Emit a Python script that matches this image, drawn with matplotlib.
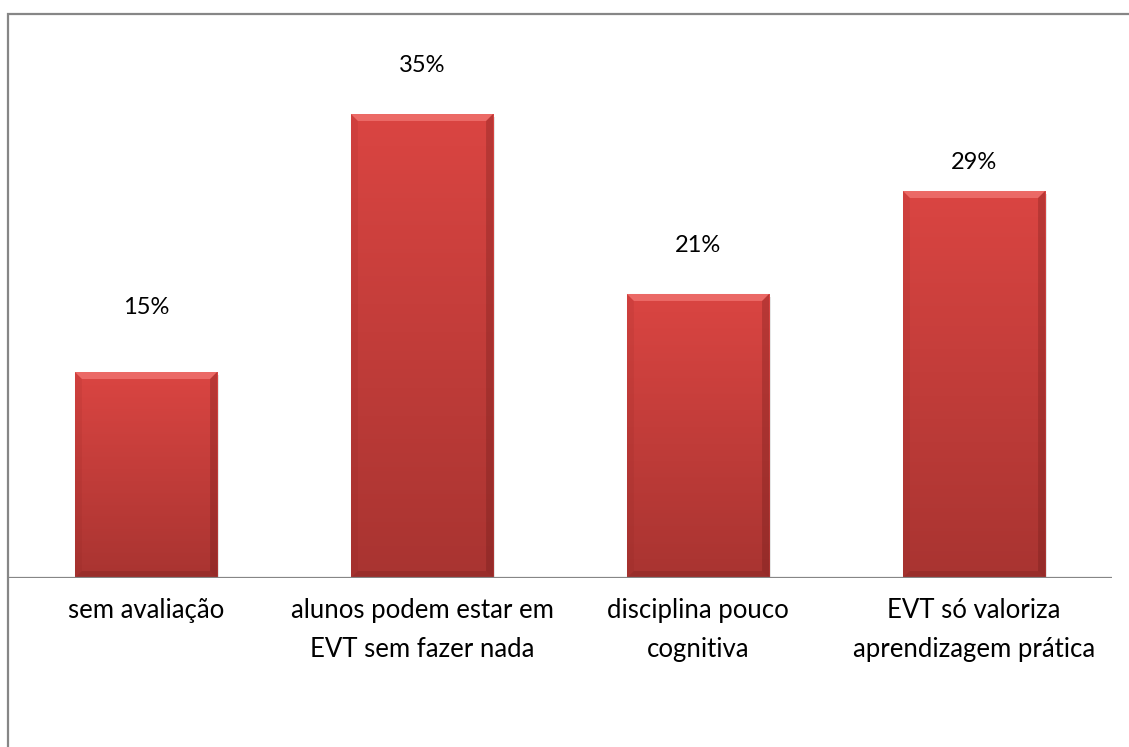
import matplotlib.pyplot as plt
import numpy as np
from matplotlib.patches import Polygon, Rectangle
from matplotlib.colors import LinearSegmentedColormap

categories = ["sem avaliação", "alunos podem estar em\nEVT sem fazer nada",
              "disciplina pouco\ncognitiva", "EVT só valoriza\naprendizagem prática"]
values = [15.36, 34.6, 21.18, 28.86]
labels = ["15%", "35%", "21%", "29%"]

W, H = 1129, 747
fig = plt.figure(figsize=(W / 100, H / 100), dpi=100)
plt.rcParams['font.family'] = ['Lato', 'DejaVu Sans']

# plot area: x 8..1112 px, y 14..578 px (from top)
ax = fig.add_axes([8 / W, (H - 578) / H, 1104 / W, 564 / H])
ax.set_xlim(-0.5, 3.5)
ax.set_ylim(0, 564 / 13.41)
ax.axis('off')

# outer chart frame (only left and top visible)
fig.add_artist(Rectangle((7.5 / W, -0.1), 2, (H - 13.5) / H + 0.1, transform=fig.transFigure,
                         fill=False, edgecolor='#868686', linewidth=1.6))

x = np.arange(len(categories))
width = 0.515
bars = ax.bar(x, values, width=width, color='#c83d3a', zorder=2)

cmap = LinearSegmentedColormap.from_list('red', ['#a93431', '#da4542'])
grad = np.linspace(0, 1, 100).reshape(-1, 1)
bx = 7 / 276  # bevel size in data units
by = 7 / 13.41
for b in bars:
    x0, w, h = b.get_x(), b.get_width(), b.get_height()
    # soft shadow
    ax.add_patch(Rectangle((x0 + 0.006, 0), w, h - 0.25, color='#000000', alpha=0.10, zorder=1, lw=0))
    im = ax.imshow(grad, extent=[x0, x0 + w, 0, h], origin='lower', cmap=cmap,
                   aspect='auto', zorder=3)
    im.set_clip_path(b)
    x1, y1 = x0 + w, h
    ax.add_patch(Polygon([[x0, y1], [x1, y1], [x1 - bx, y1 - by], [x0 + bx, y1 - by]],
                         closed=True, color='#f47a76', alpha=0.7, lw=0, zorder=4))
    ax.add_patch(Polygon([[x1, y1], [x1, 0], [x1 - bx, by], [x1 - bx, y1 - by]],
                         closed=True, color='#5a1412', alpha=0.25, lw=0, zorder=4))
    ax.add_patch(Polygon([[x0, y1], [x0, 0], [x0 + bx, by], [x0 + bx, y1 - by]],
                         closed=True, color='#7a1c1a', alpha=0.10, lw=0, zorder=4))
    ax.add_patch(Polygon([[x0, 0], [x1, 0], [x1 - bx, by], [x0 + bx, by]],
                         closed=True, color='#5a1412', alpha=0.2, lw=0, zorder=4))

# labels were moved by hand in the original, so gaps differ per bar (pixels)
label_gap = [65, 49, 48, 28]
for xi, v, lab, g in zip(x, values, labels, label_gap):
    ax.annotate(lab, (xi, v), xytext=(0, g), textcoords='offset pixels',
                ha='center', va='center', fontsize=17, color='#000000')

ax.axhline(0, color='#868686', linewidth=1.6, zorder=5, xmin=0, xmax=1)

for xi, cat in zip(x, categories):
    ax.annotate(cat, (xi, 0), xytext=(0, -20), textcoords='offset pixels',
                ha='center', va='top', fontsize=18.5, color='#000000', linespacing=1.72)

fig.savefig('out.png', dpi=100)
